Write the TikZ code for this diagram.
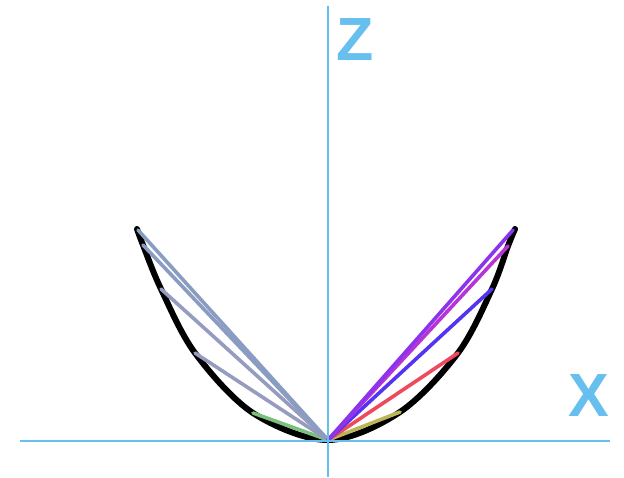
\documentclass[tikz,border=0pt]{standalone}
\usepackage{fontspec}
\setmainfont{Liberation Sans}
\definecolor{axisblue}{HTML}{66BFEE}
\definecolor{lgray}{HTML}{8A9CC2}
\definecolor{lgrayb}{HTML}{969CC0}
\definecolor{lgreen}{HTML}{78C07C}
\definecolor{ryellow}{HTML}{BDB55A}
\definecolor{rred}{HTML}{EE4A5E}
\definecolor{rblue}{HTML}{5533F0}
\definecolor{rmag}{HTML}{B833D6}
\definecolor{rpurple}{HTML}{8C33EE}
\tikzset{
  axisline/.style={draw=axisblue, line width=2pt},
  axislabel/.style={text=axisblue, font=\bfseries\fontsize{61}{61}\selectfont, inner sep=0pt},
  curveline/.style={draw=black, line width=6pt, line cap=round, line join=round},
  chord/.style={line width=3.6pt, line cap=round}
}
\begin{document}
\begin{tikzpicture}[x=1pt,y=-1pt]
\useasboundingbox (0,0) rectangle (624,477);
% named points
\coordinate (O) at (328,440);
\coordinate (xl) at (20,441);
\coordinate (xr) at (610,441);
\coordinate (zt) at (328,6);
\coordinate (zb) at (328,477);
\coordinate (L0) at (138,230);
\coordinate (L1) at (143,245);
\coordinate (L2) at (161,289);
\coordinate (L3) at (195,353);
\coordinate (L4) at (253,413);
\coordinate (R0) at (513,230);
\coordinate (R1) at (508,246);
\coordinate (R2) at (492,289);
\coordinate (R3) at (458,353);
\coordinate (R4) at (400,412);
% curve
\draw[curveline] plot[smooth, tension=0.55] coordinates {(137,229) (143,245) (161,289) (195,353) (253,413) (328,440) (400,412) (458,353) (492,289) (508,246) (515,229)};
% chords left
\draw[chord, lgreen] (O) -- (L4);
\draw[chord, lgrayb] (O) -- (L3);
\draw[chord, lgrayb] (O) -- (L2);
\draw[chord, lgray] (O) -- (L1);
\draw[chord, lgray] (O) -- (L0);
% chords right
\draw[chord, ryellow] (O) -- (R4);
\draw[chord, rred] (O) -- (R3);
\draw[chord, rblue] (O) -- (R2);
\draw[chord, rmag] (O) -- (R1);
\draw[chord, rpurple] (O) -- (R0);
% axes
\draw[axisline] (xl) -- (xr);
\draw[axisline] (zt) -- (zb);
\node[axislabel] (zlab) at (355,40) {Z};
\node[axislabel] (xlab) at (589,396) {X};
\end{tikzpicture}
\end{document}
